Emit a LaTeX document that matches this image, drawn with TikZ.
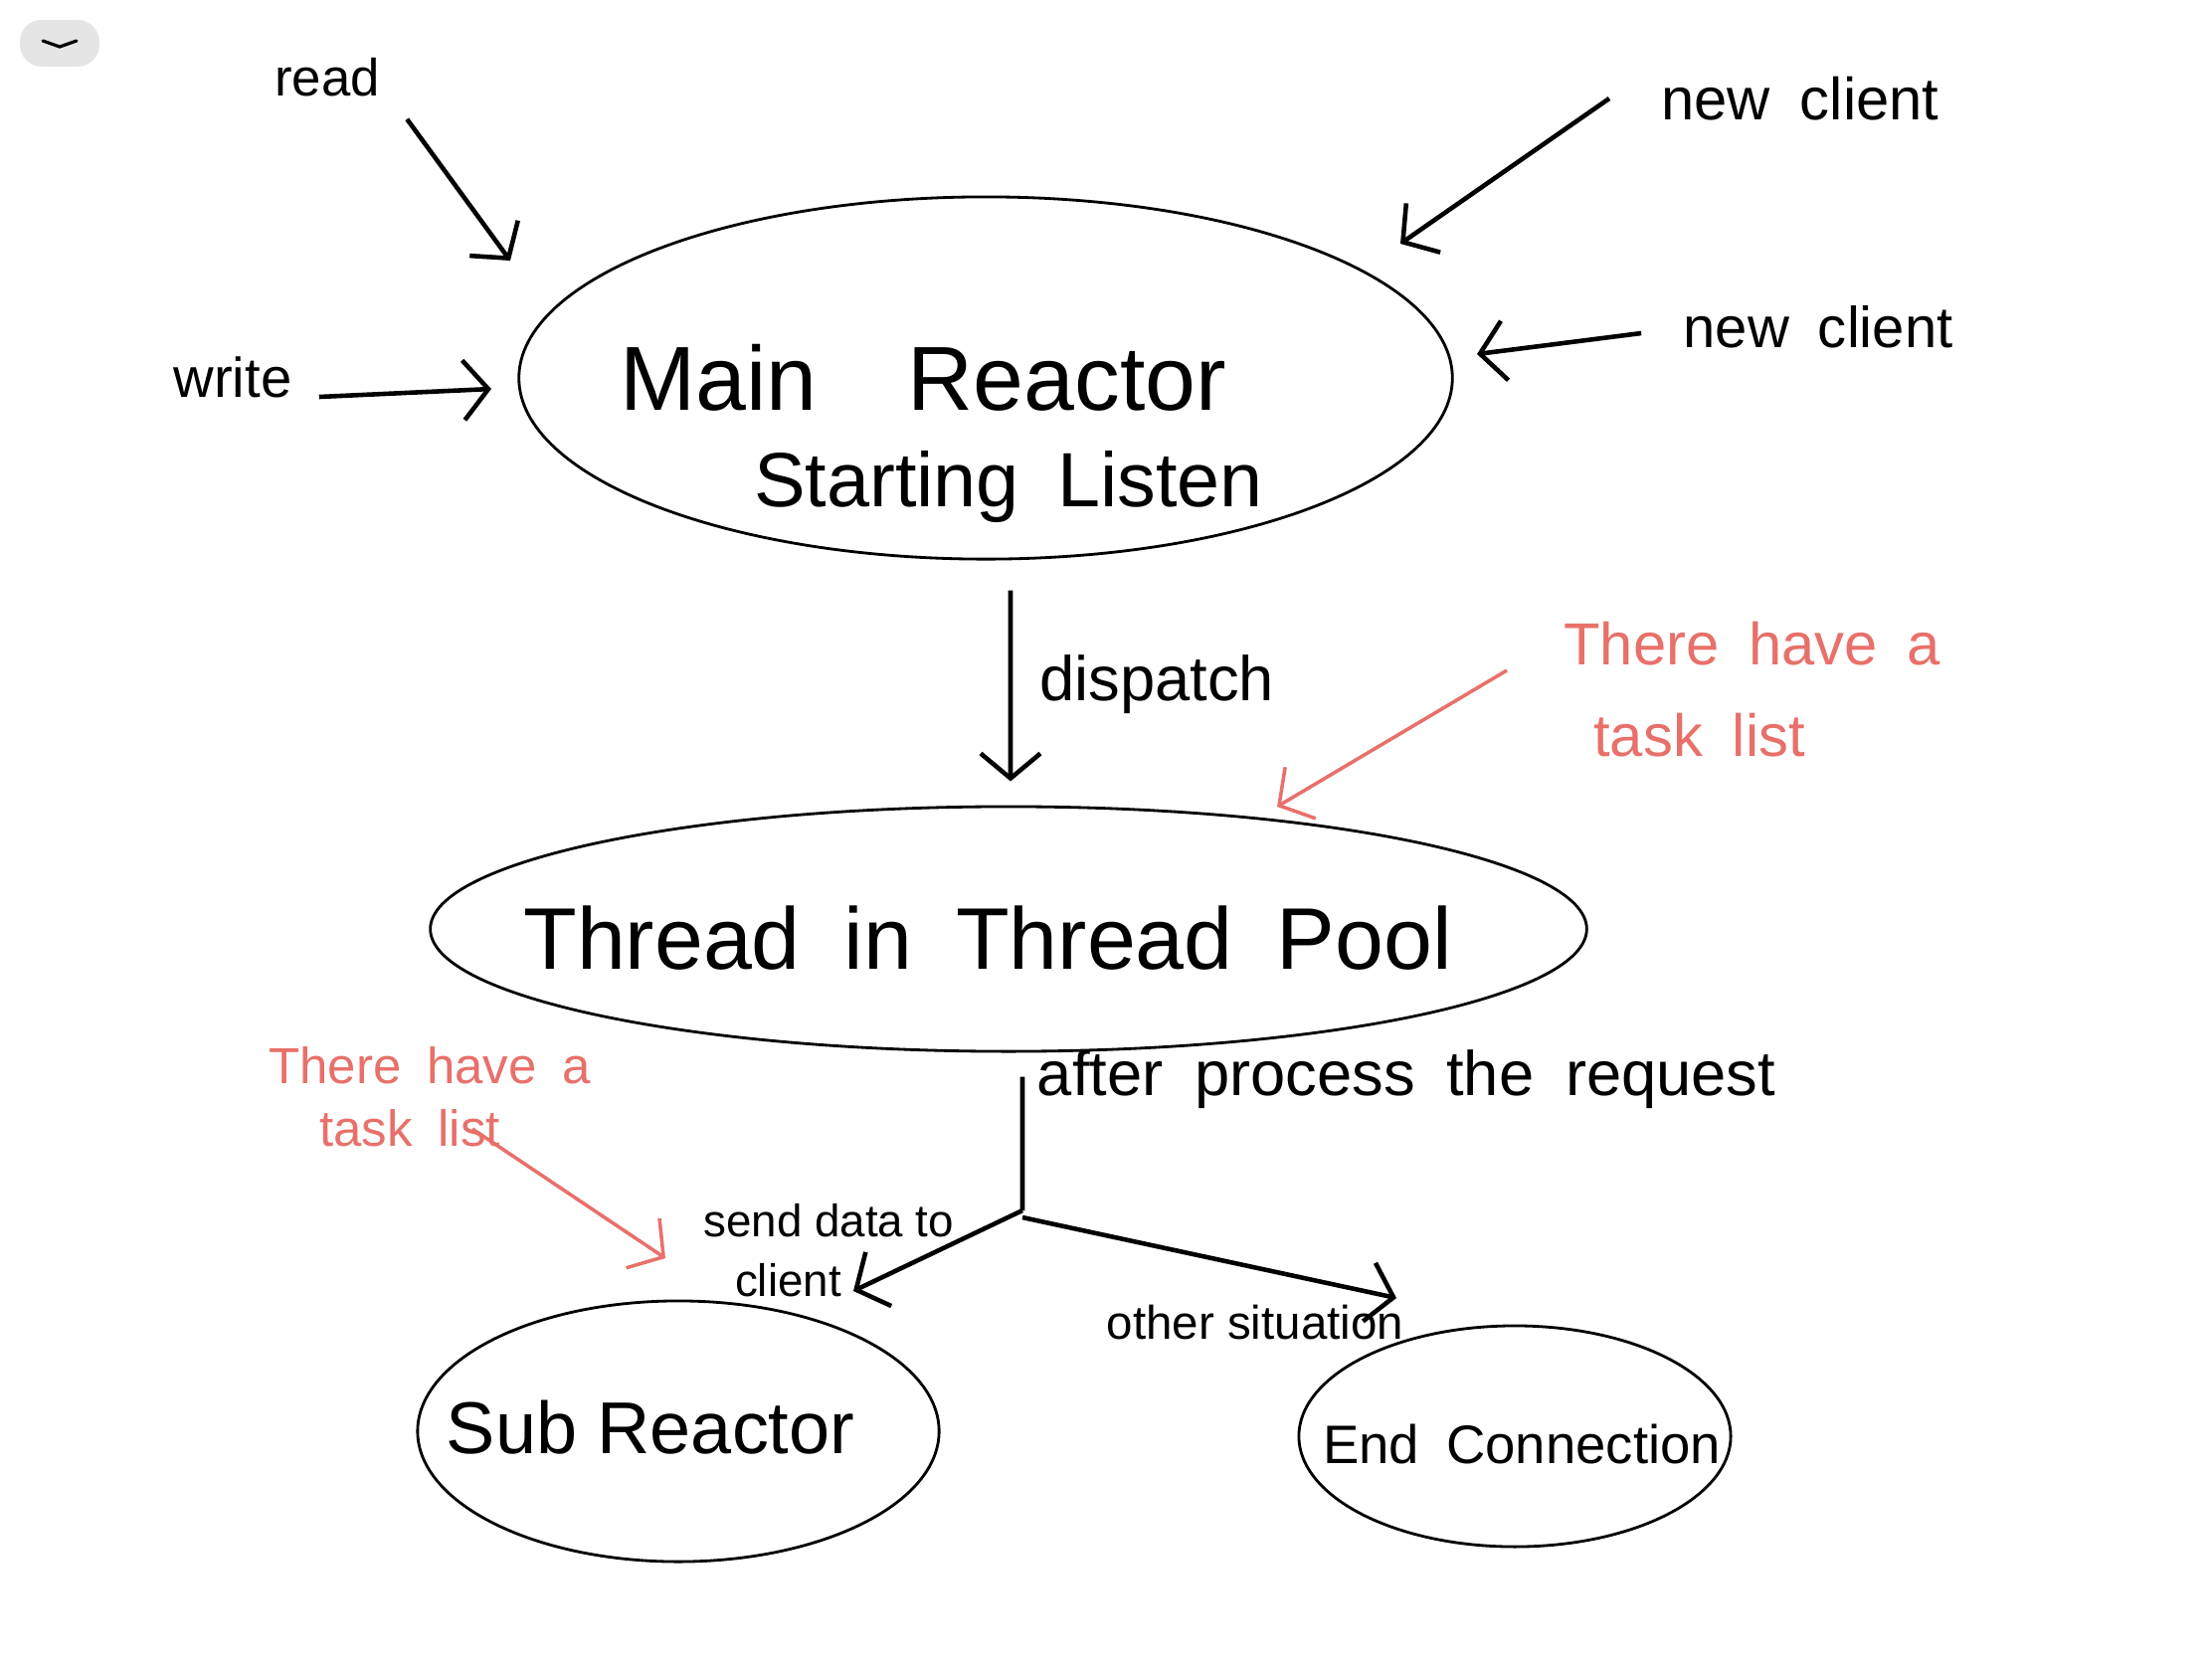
\documentclass[tikz,border=0pt]{standalone}
\usepackage{fontspec}
\setmainfont{Liberation Sans}
\usetikzlibrary{arrows.meta,shapes.geometric}

\definecolor{notered}{RGB}{232,112,106}
\definecolor{btngray}{RGB}{229,229,229}

\tikzset{
  bubble/.style={draw,ellipse,line width=0.8pt,inner sep=0pt},
  hand/.style={line width=1.3pt,-{Straight Barb[length=2.5mm,width=6mm]}},
  redhand/.style={hand,line width=1pt,draw=notered},
  note/.style={text=notered,align=left,anchor=west},
}

\begin{document}
\begin{tikzpicture}[x=0.01cm,y=-0.01cm]
  \useasboundingbox (0,0) rectangle (2224,1668);

  % top left button
  \fill[btngray,rounded corners=0.22cm] (20,20) rectangle (100,67);
  \draw[line width=0.9pt,line cap=round,line join=round] (43,41) -- (60,47) -- (77,41);

  % ellipses
  \node[bubble,minimum width=9.38cm,minimum height=3.64cm] (main) at (991,380) {};
  \node[bubble,minimum width=11.62cm,minimum height=2.46cm] (pool) at (1014,934) {};
  \node[bubble,minimum width=5.24cm,minimum height=2.62cm] (sub) at (682,1439) {};
  \node[bubble,minimum width=4.34cm,minimum height=2.22cm] (endc) at (1523,1444) {};

  \node[font=\fontsize{26}{32}\selectfont] (mainlbl) at (928,380) {Main\quad Reactor};
  \node[font=\fontsize{22}{26}\selectfont] (startlbl) at (1014,489) {Starting\enspace Listen};
  \node[font=\fontsize{25}{30}\selectfont] (poollbl) at (993,943) {Thread\enspace in\enspace Thread\enspace Pool};
  \node[font=\fontsize{21}{25}\selectfont] (sublbl) at (654,1435) {Sub Reactor};
  \node[font=\fontsize{15.5}{19}\selectfont] (endlbl) at (1530,1452) {End\enspace Connection};

  % labels
  \node[font=\fontsize{15}{18}\selectfont] (read) at (329,78) {read};
  \node[font=\fontsize{16}{19}\selectfont] (write) at (234,379) {write};
  \node[font=\fontsize{17}{20}\selectfont] (newtop) at (1810,99) {new\enspace client};
  \node[font=\fontsize{16.5}{20}\selectfont] (newside) at (1828,329) {new\enspace client};
  \node[font=\fontsize{18}{22}\selectfont] (dispatch) at (1163,688) {dispatch};
  \node[font=\fontsize{18}{22}\selectfont] (after) at (1414,1085) {after\enspace process\enspace the\enspace request};
  \node[font=\fontsize{13}{17}\selectfont,align=left,anchor=west] (send) at (695,1257) {send data to\\\hspace{9pt}client};
  \node[font=\fontsize{13.5}{17}\selectfont] (other) at (1262,1329) {other situation};
  \node[note,font=\fontsize{17}{26}\selectfont] (noteR) at (1560,693) {There\enspace have\enspace a\\\enspace task\enspace list};
  \node[note,font=\fontsize{14.5}{18}\selectfont] (noteL) at (258,1103) {There\enspace have\enspace a\\\quad task\enspace list};

  % arrows in
  \coordinate (readtip) at (513,262);
  \coordinate (writetip) at (494,391);
  \coordinate (newtoptip) at (1408,245);
  \coordinate (newsidetip) at (1485,356);
  \draw[hand] ([shift={(15,10)}]read.south east) -- (readtip);
  \draw[hand] ([shift={(15,20)}]write.east) -- (writetip);
  \draw[hand] ([xshift=-0.4cm]newtop.west) -- (newtoptip);
  \draw[hand] ([xshift=-0.3cm,yshift=-0.06cm]newside.west) -- (newsidetip);

  % dispatch
  \draw[hand] ([xshift=0.25cm,yshift=-0.3cm]main.south) -- ([xshift=0.02cm,yshift=0.24cm]pool.north);

  % fork
  \coordinate (fork) at (1028,1217);
  \coordinate (sendtip) at (858,1298);
  \coordinate (othertip) at (1404,1305);
  \draw[line width=1.3pt] ([xshift=0.14cm,yshift=-0.24cm]pool.south) -- (fork);
  \draw[hand] (fork) -- (sendtip);
  \draw[hand] ([yshift=-0.07cm]fork) -- (othertip);

  % task list notes
  \coordinate (noteRtip) at (1284,811);
  \coordinate (noteLtail) at (475,1135);
  \coordinate (noteLtip) at (669,1265);
  \draw[redhand] ([shift={(-45,-19)}]noteR.west) -- (noteRtip);
  \draw[redhand] (noteLtail) -- (noteLtip);
\end{tikzpicture}
\end{document}
